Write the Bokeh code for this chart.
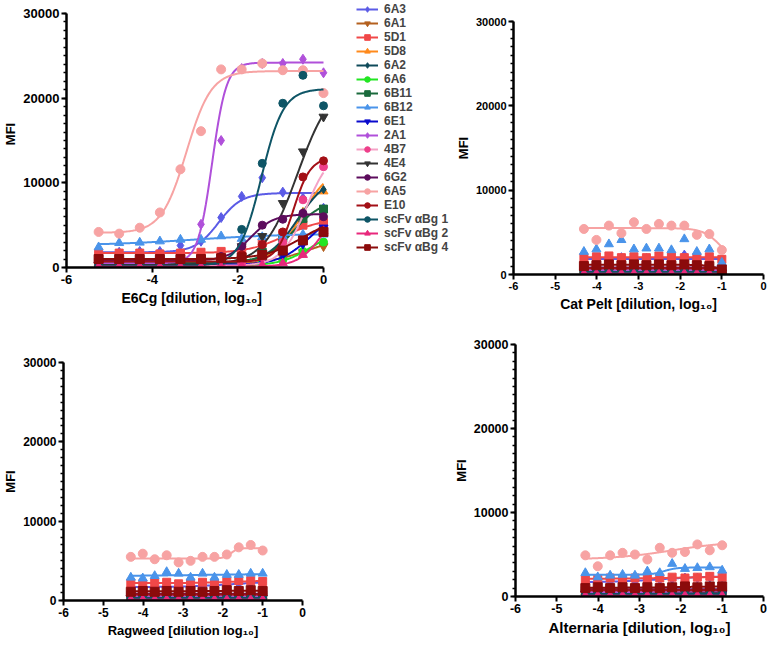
import numpy as np
from bokeh.plotting import figure
from bokeh.models import Range1d, FixedTicker, Legend, LegendItem, Title
from bokeh.layouts import row, column
from bokeh.embed import file_html
from bokeh.resources import INLINE

# ---------------- series definitions ----------------
NAMES = ["6A3", "6A1", "5D1", "5D8", "6A2", "6A6", "6B11", "6B12", "6E1", "2A1",
         "4B7", "4E4", "6G2", "6A5", "E10",
         "scFv \u03b1Bg 1", "scFv \u03b1Bg 2", "scFv \u03b1Bg 4"]
MARKER_COLORS = ["#5B5BE6", "#B4601E", "#F04848", "#FF8A1C", "#0F4A5A", "#22E622",
                 "#1A6A3C", "#4A94EA", "#0A0ACD", "#B050DA", "#EE3F8A", "#333333",
                 "#5C0C5C", "#F7A3A3", "#A30F16", "#0E5566", "#E8287C", "#8B0B0B"]
LINE_COLORS = ["#5B5BE6", "#B4601E", "#F04848", "#FF8A1C", "#0F4A5A", "#22E622",
               "#1A6A3C", "#4A94EA", "#0A0ACD", "#B050DA", "#F4A3C6", "#333333",
               "#5C0C5C", "#F7A3A3", "#A30F16", "#0E5566", "#E8287C", "#8B0B0B"]
MARKERS = ["diamond", "inverted_triangle", "square", "triangle", "diamond", "circle",
           "square", "triangle", "inverted_triangle", "diamond", "circle",
           "inverted_triangle", "circle", "circle", "circle", "circle", "triangle", "square"]
MARKER_SIZES = [10, 9, 8, 9, 8, 8, 8, 9, 9, 10, 8, 9, 8, 9, 8, 8, 9, 9]

# ---------------- x positions (log10 dilution) ----------------
E6CG_X = [-5.25, -4.77, -4.29, -3.82, -3.34, -2.86, -2.39, -1.91, -1.43, -0.95, -0.48, 0.0]
ALLERGEN_X = [-4.31, -4.01, -3.71, -3.41, -3.11, -2.81, -2.51, -2.21, -1.90, -1.60, -1.30, -1.00]

# ---------------- E6Cg panel (MFI) ----------------
E6CG_6A3 = [1800, 1800, 1900, 1900, 2600, 3100, 5900, 8400, 10600, 8900, 8200, 7000]
E6CG_6A1 = [300, 300, 300, 300, 400, 400, 500, 600, 800, 1200, 1800, 2500]
E6CG_5D1 = [1700, 1700, 1700, 1600, 1700, 1800, 1900, 2200, 2900, 4000, 5000, 5300]
E6CG_5D8 = [500, 500, 500, 500, 500, 600, 700, 900, 1500, 3000, 6500, 9000]
E6CG_6A2 = [400, 400, 400, 400, 400, 500, 600, 900, 2000, 4000, 6500, 9200]
E6CG_6A6 = [200, 200, 200, 200, 200, 200, 200, 300, 600, 900, 1900, 3000]
E6CG_6B11 = [600, 600, 600, 600, 600, 700, 800, 1000, 1800, 3500, 5800, 6900]
E6CG_6B12 = [2400, 2900, 2950, 3100, 3300, 3300, 3700, 3400, 3600, 3700, 3900, 3900]
E6CG_6E1 = [300, 300, 300, 300, 300, 300, 400, 500, 800, 1500, 2800, 4700]
E6CG_2A1 = [400, 400, 500, 500, 800, 5100, 15000, 23500, 24100, 24100, 24600, 23000]
E6CG_4B7 = [200, 200, 200, 200, 200, 200, 300, 500, 1200, 3000, 8000, 11900]
E6CG_4E4 = [300, 300, 300, 300, 400, 600, 1200, 2500, 3700, 7600, 13700, 17800]
E6CG_6G2 = [800, 800, 800, 800, 900, 1000, 1300, 2500, 5000, 5700, 6400, 6000]
E6CG_6A5 = [4200, 4000, 4700, 6500, 11600, 16100, 23400, 23400, 24100, 23300, 23300, 20600]
E6CG_E10 = [700, 700, 700, 700, 700, 800, 1000, 1500, 2700, 4200, 10700, 12600]
E6CG_SCFV1 = [200, 200, 200, 200, 300, 400, 700, 4500, 12300, 19400, 22700, 19100]
E6CG_SCFV2 = [100, 100, 100, 100, 100, 100, 100, 150, 300, 500, 1500, 4300]
E6CG_SCFV4 = [1000, 1000, 1000, 1000, 1000, 1000, 1100, 1200, 1500, 2000, 3200, 4200]
# fitted 4-parameter curves (left plateau, right plateau, logEC50, Hill slope)
E6CG_FIT_BOTTOM = [1800, 300, 1700, 500, 400, 200, 600, 2600, 300, 500, 200, 300, 800, 4100, 700, 200, 100, 1000]
E6CG_FIT_TOP = [8800, 4000, 5800, 12000, 11000, 4500, 8000, 4000, 7000, 24200, 14000, 22000, 6300, 23200, 13000, 21100, 8000, 6000]
E6CG_FIT_LOGEC50 = [-2.45, -0.3, -0.9, -0.5, -0.6, -0.3, -0.7, -3.0, -0.3, -2.6, -0.4, -0.6, -1.7, -3.2, -0.7, -1.45, 0.0, -0.5]
E6CG_FIT_HILL = [1.6, 0.8, 1.0, 1.3, 1.2, 1.2, 1.3, 0.4, 1.2, 2.6, 1.5, 1.1, 1.6, 1.5, 2.2, 1.7, 1.5, 1.0]

# ---------------- Cat Pelt panel ----------------
CAT_6A3 = [1700, 1800, 1900, 2000, 1800, 1900, 1800, 1900, 2300, 1900, 1800, 1300]
CAT_6A1 = [300, 300, 300, 300, 300, 300, 300, 300, 300, 300, 300, 200]
CAT_5D1 = [2000, 2100, 2200, 2000, 2100, 2000, 2200, 2100, 2000, 2000, 2100, 1800]
CAT_5D8 = [500, 500, 500, 500, 500, 500, 500, 500, 500, 500, 400, 300]
CAT_6A2 = [400, 400, 400, 400, 400, 400, 400, 400, 400, 400, 400, 300]
CAT_6A6 = [200, 200, 200, 200, 200, 200, 200, 200, 200, 200, 200, 200]
CAT_6B11 = [700, 700, 700, 800, 700, 700, 800, 700, 700, 700, 700, 500]
CAT_6B12 = [2700, 3000, 3600, 4100, 3000, 3100, 3100, 2900, 4200, 2700, 3000, 1400]
CAT_6E1 = [300, 300, 300, 300, 300, 300, 300, 300, 300, 300, 300, 200]
CAT_2A1 = [500, 500, 500, 500, 500, 500, 500, 500, 500, 500, 500, 400]
CAT_4B7 = [200, 200, 200, 200, 200, 200, 200, 200, 200, 200, 200, 100]
CAT_4E4 = [300, 300, 300, 300, 300, 300, 300, 300, 300, 300, 300, 200]
CAT_6G2 = [800, 800, 900, 800, 900, 800, 900, 800, 900, 800, 800, 600]
CAT_6A5 = [5400, 4100, 5800, 4900, 6200, 5400, 6000, 5800, 5800, 4700, 4800, 2900]
CAT_E10 = [700, 700, 800, 700, 800, 700, 800, 700, 800, 700, 700, 500]
CAT_SCFV1 = [300, 300, 300, 300, 300, 300, 300, 300, 300, 300, 300, 200]
CAT_SCFV2 = [100, 100, 100, 100, 100, 100, 100, 100, 100, 100, 100, 100]
CAT_SCFV4 = [1000, 1100, 1200, 1100, 1200, 1100, 1200, 1100, 1200, 1100, 1000, 600]
CAT_FIT_BOTTOM = [1850, 300, 2050, 500, 400, 200, 720, None, 300, 500, 200, 300, 830, 5500, 730, 300, 100, 1150]
CAT_FIT_TOP = [1850, 300, 2050, 500, 400, 200, 720, None, 300, 500, 200, 300, 830, 1000, 730, 300, 100, 300]
CAT_FIT_LOGEC50 = [-2.0, -2.0, -2.0, -2.0, -2.0, -2.0, -2.0, None, -2.0, -2.0, -2.0, -2.0, -2.0, -1.0, -2.0, -2.0, -2.0, -1.1]
CAT_FIT_HILL = [1.0, 1.0, 1.0, 1.0, 1.0, 1.0, 1.0, None, 1.0, 1.0, 1.0, 1.0, 1.0, 2.0, 1.0, 1.0, 1.0, 3.0]

# ---------------- Ragweed panel ----------------
RAG_6A3 = [1800, 1800, 1700, 1900, 1800, 1800, 1900, 1900, 2000, 2100, 2200, 2300]
RAG_6A1 = [300, 300, 300, 300, 300, 300, 300, 300, 300, 300, 300, 300]
RAG_5D1 = [2200, 2100, 2200, 2300, 2100, 2200, 2300, 2200, 2400, 2500, 2500, 2400]
RAG_5D8 = [500, 500, 500, 500, 500, 500, 500, 500, 500, 500, 500, 500]
RAG_6A2 = [400, 400, 400, 400, 400, 400, 400, 400, 400, 400, 400, 400]
RAG_6A6 = [200, 200, 200, 200, 200, 200, 200, 200, 200, 200, 200, 200]
RAG_6B11 = [700, 700, 800, 700, 800, 700, 800, 700, 800, 700, 800, 700]
RAG_6B12 = [2900, 2800, 3100, 3600, 3400, 2900, 3400, 2900, 3250, 3250, 3400, 3400]
RAG_6E1 = [300, 300, 300, 300, 300, 300, 300, 300, 300, 300, 300, 300]
RAG_2A1 = [500, 500, 500, 500, 500, 500, 500, 500, 500, 500, 500, 500]
RAG_4B7 = [200, 200, 200, 200, 200, 200, 200, 200, 200, 200, 200, 200]
RAG_4E4 = [300, 300, 300, 300, 300, 300, 300, 300, 300, 300, 300, 300]
RAG_6G2 = [800, 900, 800, 900, 800, 900, 800, 900, 800, 900, 800, 900]
RAG_6A5 = [5500, 5900, 5200, 5700, 4800, 5000, 5500, 5500, 5800, 6700, 7000, 6300]
RAG_E10 = [700, 800, 700, 800, 700, 800, 700, 800, 700, 800, 700, 800]
RAG_SCFV1 = [300, 300, 300, 300, 300, 300, 300, 300, 300, 300, 300, 300]
RAG_SCFV2 = [100, 100, 100, 100, 100, 100, 100, 100, 100, 100, 100, 100]
RAG_SCFV4 = [1100, 1200, 1100, 1200, 1100, 1200, 1100, 1200, 1300, 1200, 1300, 1200]
RAG_FIT_BOTTOM = [1700, 300, 2200, 500, 400, 200, 750, 3100, 300, 500, 200, 300, 850, 5300, 750, 300, 100, 1170]
RAG_FIT_TOP = [2400, 300, 2500, 500, 400, 200, 750, 3350, 300, 500, 200, 300, 850, 6600, 750, 300, 100, 1250]
RAG_FIT_LOGEC50 = [-1.8, -2.0, -1.8, -2.0, -2.0, -2.0, -2.0, -2.5, -2.0, -2.0, -2.0, -2.0, -2.0, -1.8, -2.0, -2.0, -2.0, -2.0]
RAG_FIT_HILL = [0.8, 1.0, 1.0, 1.0, 1.0, 1.0, 1.0, 0.5, 1.0, 1.0, 1.0, 1.0, 1.0, 5.0, 1.0, 1.0, 1.0, 1.0]

# ---------------- Alternaria panel ----------------
ALT_6A3 = [1700, 1800, 1800, 1900, 1800, 1900, 2000, 2100, 2200, 2200, 2300, 2300]
ALT_6A1 = [300, 300, 300, 300, 300, 300, 300, 300, 300, 300, 300, 300]
ALT_5D1 = [2000, 2100, 2200, 2100, 2200, 2100, 2200, 2300, 2200, 2300, 2400, 2300]
ALT_5D8 = [500, 500, 500, 500, 500, 500, 500, 500, 500, 500, 500, 500]
ALT_6A2 = [400, 400, 400, 400, 400, 400, 400, 500, 500, 500, 500, 500]
ALT_6A6 = [200, 200, 200, 200, 200, 200, 200, 200, 200, 200, 200, 200]
ALT_6B11 = [700, 700, 800, 700, 800, 700, 800, 700, 800, 700, 800, 700]
ALT_6B12 = [2800, 2300, 2500, 2600, 2500, 3000, 2800, 3900, 3300, 3400, 3500, 3100]
ALT_6E1 = [300, 300, 300, 300, 300, 300, 300, 300, 300, 300, 300, 300]
ALT_2A1 = [500, 500, 500, 500, 500, 500, 500, 500, 500, 500, 500, 500]
ALT_4B7 = [200, 200, 200, 200, 200, 200, 200, 200, 200, 200, 200, 200]
ALT_4E4 = [300, 300, 300, 300, 300, 300, 300, 300, 400, 400, 400, 400]
ALT_6G2 = [800, 800, 900, 800, 900, 800, 900, 800, 900, 800, 900, 800]
ALT_6A5 = [4900, 3600, 4900, 5200, 5000, 4400, 5800, 5200, 5300, 6200, 5500, 6100]
ALT_E10 = [700, 800, 700, 800, 700, 800, 700, 800, 700, 800, 700, 800]
ALT_SCFV1 = [300, 300, 300, 300, 300, 300, 300, 300, 300, 300, 300, 300]
ALT_SCFV2 = [100, 100, 100, 100, 100, 100, 100, 100, 100, 100, 100, 100]
ALT_SCFV4 = [1000, 1100, 1000, 1100, 1000, 1100, 1000, 1100, 1200, 1100, 1200, 1200]
ALT_FIT_BOTTOM = [1700, 300, 2100, 500, 400, 200, 750, 2600, 300, 500, 200, 300, 850, 4400, 750, 300, 100, 1050]
ALT_FIT_TOP = [2400, 300, 2400, 500, 500, 200, 750, 3450, 300, 500, 200, 400, 850, 6600, 750, 300, 100, 1200]
ALT_FIT_LOGEC50 = [-2.5, -2.0, -2.0, -2.0, -2.2, -2.0, -2.0, -2.4, -2.0, -2.0, -2.0, -2.0, -2.0, -2.2, -2.0, -2.0, -2.0, -2.0]
ALT_FIT_HILL = [0.8, 1.0, 0.6, 1.0, 1.0, 1.0, 1.0, 3.0, 1.0, 1.0, 1.0, 1.0, 1.0, 0.6, 1.0, 1.0, 1.0, 1.0]

Y_MAJOR = [0, 10000, 20000, 30000]
Y_MINOR = list(range(0, 30001, 1000))
X_TICKS_E6CG = [-6, -4, -2, 0]
X_TICKS_ALLERGEN = [-6, -5, -4, -3, -2, -1, 0]

FONT = "Liberation Sans"


def build_panel(xv, series, fits, unit_px, x_end, frame_h, borders, tick_size,
                title, title_size, xticks, title_offset=None, y_end=30000):
    left, right, top, bottom = borders
    fw = int(round((x_end + 6) * unit_px))
    p = figure(frame_width=fw, frame_height=frame_h,
               x_range=Range1d(-6, x_end), y_range=Range1d(0, y_end),
               output_backend="svg", toolbar_location=None,
               min_border_left=left, min_border_right=right,
               min_border_top=top, min_border_bottom=bottom)
    p.grid.visible = False
    p.outline_line_color = None
    p.xaxis.bounds = (-6, 0)
    p.yaxis.bounds = (0, 30000)
    p.xaxis.ticker = FixedTicker(ticks=xticks, minor_ticks=[])
    p.yaxis.ticker = FixedTicker(ticks=Y_MAJOR, minor_ticks=Y_MINOR)
    p.xaxis.major_label_overrides = {t: str(t) for t in xticks}
    p.yaxis.axis_label = "MFI"
    for ax in (p.xaxis[0], p.yaxis[0]):
        ax.axis_line_width = 2.5
        ax.axis_line_color = "black"
        ax.major_tick_line_width = 2
        ax.minor_tick_line_width = 1.5
        ax.major_tick_out = 5
        ax.major_tick_in = 0
        ax.minor_tick_out = 3
        ax.minor_tick_in = 0
        ax.major_label_text_font = FONT
        ax.major_label_text_font_style = "bold"
        ax.major_label_text_font_size = tick_size
        ax.major_label_text_color = "black"
        ax.major_label_standoff = 2
        ax.axis_label_text_font = FONT
        ax.axis_label_text_font_style = "bold"
        ax.axis_label_text_font_size = "13px"
        ax.axis_label_text_color = "black"
        ax.axis_label_standoff = 3
    p.yaxis.axis_label_standoff = 2
    if title_offset is None:
        p.xaxis.axis_label = title
        p.xaxis.axis_label_text_font_size = title_size
    else:
        t = Title(text=title, align="left", offset=title_offset, standoff=3,
                  text_font=FONT, text_font_style="bold", text_font_size=title_size,
                  text_color="black")
        p.add_layout(t, "below")

    xs_curve = np.linspace(xv[0], xv[-1], 240)
    items = []
    for i, name in enumerate(NAMES):
        rs = []
        b, t, c, h = fits[0][i], fits[1][i], fits[2][i], fits[3][i]
        if b is not None:
            yc = b + (t - b) / (1 + 10 ** ((c - xs_curve) * h))
            rs.append(p.line(xs_curve, yc, line_color=LINE_COLORS[i], line_width=2))
        rs.append(p.scatter(xv, series[i], marker=MARKERS[i], size=MARKER_SIZES[i],
                            fill_color=MARKER_COLORS[i], line_color=MARKER_COLORS[i]))
        items.append(LegendItem(label=name, renderers=rs))
    return p, items


e6cg_series = [E6CG_6A3, E6CG_6A1, E6CG_5D1, E6CG_5D8, E6CG_6A2, E6CG_6A6, E6CG_6B11,
               E6CG_6B12, E6CG_6E1, E6CG_2A1, E6CG_4B7, E6CG_4E4, E6CG_6G2, E6CG_6A5,
               E6CG_E10, E6CG_SCFV1, E6CG_SCFV2, E6CG_SCFV4]
cat_series = [CAT_6A3, CAT_6A1, CAT_5D1, CAT_5D8, CAT_6A2, CAT_6A6, CAT_6B11, CAT_6B12,
              CAT_6E1, CAT_2A1, CAT_4B7, CAT_4E4, CAT_6G2, CAT_6A5, CAT_E10, CAT_SCFV1,
              CAT_SCFV2, CAT_SCFV4]
rag_series = [RAG_6A3, RAG_6A1, RAG_5D1, RAG_5D8, RAG_6A2, RAG_6A6, RAG_6B11, RAG_6B12,
              RAG_6E1, RAG_2A1, RAG_4B7, RAG_4E4, RAG_6G2, RAG_6A5, RAG_E10, RAG_SCFV1,
              RAG_SCFV2, RAG_SCFV4]
alt_series = [ALT_6A3, ALT_6A1, ALT_5D1, ALT_5D8, ALT_6A2, ALT_6A6, ALT_6B11, ALT_6B12,
              ALT_6E1, ALT_2A1, ALT_4B7, ALT_4E4, ALT_6G2, ALT_6A5, ALT_E10, ALT_SCFV1,
              ALT_SCFV2, ALT_SCFV4]

# top-left: E6Cg (frame extended right and up to host the legend; axes stop at 0 / 30000)
tl_unit = 257 / 6
tl_frame_h = 267
tl, tl_items = build_panel(E6CG_X, e6cg_series,
                           (E6CG_FIT_BOTTOM, E6CG_FIT_TOP, E6CG_FIT_LOGEC50, E6CG_FIT_HILL),
                           tl_unit, -6 + 386 / tl_unit, tl_frame_h, (57, 0, 0, 52), "13px",
                           "E6Cg [dilution, log\u2081\u2080]", "14px", X_TICKS_E6CG,
                           title_offset=55, y_end=30000 * tl_frame_h / 254)
legend = Legend(items=tl_items, location=(290, 13))
legend.glyph_width = 22
legend.glyph_height = 14
legend.label_height = 14
legend.spacing = 0
legend.padding = 0
legend.margin = 0
legend.label_standoff = 6
legend.border_line_alpha = 0
legend.background_fill_alpha = 0
legend.label_text_font = FONT
legend.label_text_font_style = "bold"
legend.label_text_font_size = "12px"
tl.add_layout(legend)

tr, _ = build_panel(ALLERGEN_X, cat_series,
                    (CAT_FIT_BOTTOM, CAT_FIT_TOP, CAT_FIT_LOGEC50, CAT_FIT_HILL),
                    250 / 6, 0, 253, (60, 4, 21, 45), "11px",
                    "Cat Pelt [dilution, log\u2081\u2080]", "14px", X_TICKS_ALLERGEN)

bl, _ = build_panel(ALLERGEN_X, rag_series,
                    (RAG_FIT_BOTTOM, RAG_FIT_TOP, RAG_FIT_LOGEC50, RAG_FIT_HILL),
                    239 / 6, 0, 238, (57, 148, 43, 37), "12px",
                    "Ragweed [dilution log\u2081\u2080]", "13px", X_TICKS_ALLERGEN)

br, _ = build_panel(ALLERGEN_X, alt_series,
                    (ALT_FIT_BOTTOM, ALT_FIT_TOP, ALT_FIT_LOGEC50, ALT_FIT_HILL),
                    248 / 6, 0, 252, (62, 4, 25, 41), "12.5px",
                    "Alternaria [dilution, log\u2081\u2080]", "15px", X_TICKS_ALLERGEN)

layout = column(row(column(tl), column(tr)), row(column(bl), column(br)))

with open("out.html", "w") as f:
    f.write(file_html(layout, INLINE))
